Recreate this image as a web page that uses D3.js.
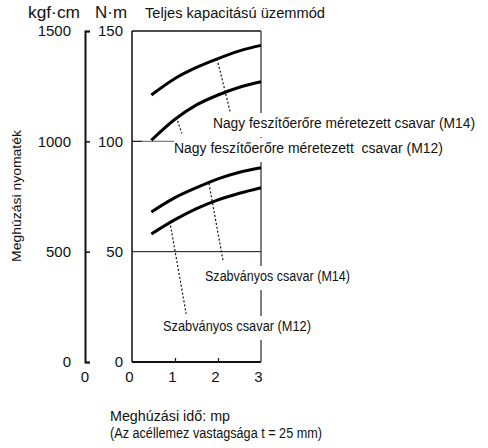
<!DOCTYPE html>
<html lang="hu">
<head>
<meta charset="UTF-8">
<title>Meghúzási nyomaték</title>
<script src="https://d3js.org/d3.v7.min.js"></script>
<style>
  body { margin: 0; background: #fff; }
  svg text { font-family: "Liberation Sans", Arial, sans-serif; fill: #111; }
  .tick text { font-size: 15px; }
  .lbl { font-size: 14px; white-space: pre; }
</style>
</head>
<body>
<div id="chart"></div>
<script>
// meghúzási idő (mp)
var times = [0.45, 1, 1.5, 2, 2.5, 3];
// nyomaték N·m
var nagyM14 = [121, 128.5, 133.5, 137.5, 141, 143.5];
var nagyM12 = [100.5, 110, 116.5, 121, 124.5, 127];
var szabvM14 = [68, 74.5, 79, 83, 86, 88];
var szabvM12 = [58, 64.5, 69.5, 73.5, 76.5, 79];

var xTicks = [0, 1, 2, 3];
var nmTicks = [0, 50, 100, 150];
var kgfTicks = [0, 500, 1000, 1500];

var labels = [
  "Nagy feszítőerőre méretezett csavar (M14)",
  "Nagy feszítőerőre méretezett  csavar (M12)",
  "Szabványos csavar (M14)",
  "Szabványos csavar (M12)"
];
// leader lines: [t0, nm0, t1, nm1]
var leaders = [
  [1.98, 137.3, 2.28, 113.6],
  [1.03, 111, 1.16, 103.6],
  [1.79, 80.9, 2.12, 45.5],
  [0.88, 63.6, 1.26, 21.8]
];

var w = 488, h = 448;
var svg = d3.select('#chart').append('svg')
  .attr('width', w)
  .attr('height', h);

var x = d3.scaleLinear().domain([0, 3]).range([132, 261]);
var y = d3.scaleLinear().domain([0, 150]).range([362, 31]);
var yK = d3.scaleLinear().domain([0, 1500]).range([362, 31]);

// frame lines
svg.append('line').attr('x1', x(0)).attr('x2', x(3)).attr('y1', y(150)).attr('y2', y(150))
  .attr('stroke', '#111').attr('stroke-width', 1.5);
svg.append('line').attr('x1', x(0)).attr('x2', x(3)).attr('y1', y(0)).attr('y2', y(0))
  .attr('stroke', '#111').attr('stroke-width', 2);
svg.append('line').attr('x1', x(0)).attr('x2', x(0)).attr('y1', y(150)).attr('y2', y(0))
  .attr('stroke', '#111').attr('stroke-width', 1.5);
svg.append('line').attr('x1', x(3)).attr('x2', x(3)).attr('y1', y(150)).attr('y2', y(0))
  .attr('stroke', '#555').attr('stroke-width', 1.5);
svg.append('line').attr('x1', x(0)).attr('x2', x(3)).attr('y1', y(50)).attr('y2', y(50))
  .attr('stroke', '#111').attr('stroke-width', 1);
svg.append('line').attr('x1', x(0)).attr('x2', x(0) + 10).attr('y1', y(100)).attr('y2', y(100))
  .attr('stroke', '#111').attr('stroke-width', 1.2);
svg.append('line').attr('x1', x(0) + 10).attr('x2', 174).attr('y1', y(100)).attr('y2', y(100))
  .attr('stroke', '#777').attr('stroke-width', 1.2);

// N·m axis
var gN = svg.append('g').attr('transform', 'translate(' + x(0) + ',0)')
  .call(d3.axisLeft(y).tickValues(nmTicks).tickFormat(d3.format('d')).tickSize(0).tickPadding(9));
gN.select('.domain').remove();

// kgf·cm axis
var gK = svg.append('g').attr('transform', 'translate(85,0)')
  .call(d3.axisLeft(yK).tickValues(kgfTicks).tickFormat(d3.format('d'))
    .tickSizeInner(-5).tickSizeOuter(-5).tickPadding(14));
gK.selectAll('line, .domain').attr('stroke', '#111').attr('stroke-width', 1.5);
gK.select('.domain').attr('stroke-width', 2);

// time axis
var gX = svg.append('g').attr('transform', 'translate(0,' + y(0) + ')')
  .call(d3.axisBottom(x).tickValues(xTicks).tickFormat(d3.format('d'))
    .tickSizeInner(-4).tickSizeOuter(0).tickPadding(9));
gX.select('.domain').remove();
gX.selectAll('line').attr('stroke', '#111').attr('stroke-width', 1.2);
gX.selectAll('text').attr('dx', -3);
gX.selectAll('.tick').filter(function (d) { return d === 0 || d === 3; }).select('line').remove();

// stray zero under kgf axis
svg.append('text').attr('x', 85).attr('y', y(0) + 20).attr('text-anchor', 'middle')
  .style('font-size', '15px').text('0');

// curves
var line = d3.line()
  .x(function (d) { return x(d[0]); })
  .y(function (d) { return y(d[1]); })
  .curve(d3.curveMonotoneX);
[nagyM14, nagyM12, szabvM14, szabvM12].forEach(function (s) {
  svg.append('path')
    .datum(times.map(function (t, i) { return [t, s[i]]; }))
    .attr('d', line)
    .attr('fill', 'none')
    .attr('stroke', '#000')
    .attr('stroke-width', 3);
});

// leaders
svg.selectAll('line.leader').data(leaders).enter().append('line')
  .attr('class', 'leader')
  .attr('x1', function (d) { return x(d[0]); })
  .attr('y1', function (d) { return y(d[1]); })
  .attr('x2', function (d) { return x(d[2]); })
  .attr('y2', function (d) { return y(d[3]); })
  .attr('stroke', '#111').attr('stroke-width', 1.2)
  .attr('stroke-dasharray', '2,2');

// curve labels; a white gap cuts the right frame line where a label crosses it
var lblPos = [[213, 128, 262], [174, 153, 269], [205, 281, 145], [163, 331, 148]];
labels.forEach(function (t, i) {
  var p = lblPos[i];
  var tx = svg.append('text').attr('class', 'lbl')
    .attr('x', p[0]).attr('y', p[1])
    .attr('textLength', p[2]).attr('lengthAdjust', 'spacingAndGlyphs')
    .text(t);
  var b = tx.node().getBBox();
  svg.insert('rect', 'text.lbl')
    .attr('x', x(3) - 4).attr('y', b.y - 2)
    .attr('width', 8).attr('height', b.height + 8)
    .attr('fill', '#fff');
});

// headers
function txt(s, xx, yy, len, size) {
  return svg.append('text').attr('x', xx).attr('y', yy)
    .attr('textLength', len).attr('lengthAdjust', 'spacingAndGlyphs')
    .style('font-size', size + 'px').style('white-space', 'pre').text(s);
}
txt('kgf·cm', 28, 18, 52, 16);
txt('N·m', 95, 18, 32, 16);
txt('Teljes kapacitású üzemmód', 145, 18, 180, 14);
txt('Meghúzási idő: mp', 110, 421, 120, 15);
txt('(Az acéllemez vastagsága t = 25 mm)', 110, 438, 212, 14);

svg.append('text')
  .attr('transform', 'translate(21,196) rotate(-90)')
  .attr('text-anchor', 'middle')
  .attr('textLength', 132).attr('lengthAdjust', 'spacingAndGlyphs')
  .style('font-size', '13px')
  .text('Meghúzási nyomaték');
</script>
</body>
</html>
